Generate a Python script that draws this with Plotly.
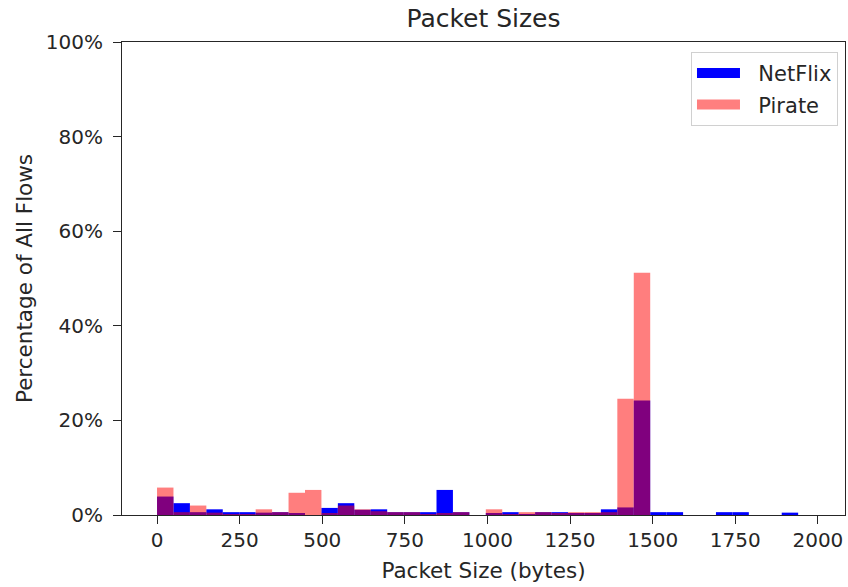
import plotly.graph_objects as go

# Histogram bins (bytes): 40 equal-width bins from 0 to 1990
bin_start = 0.0
bin_width = 49.75
n_bins = 40

# Percentage of all flows per bin
netflix = [3.9, 2.5, 0.6, 1.2, 0.6, 0.6, 0.5, 0.6, 0.3, 0.0,
           1.5, 2.5, 1.1, 1.2, 0.6, 0.6, 0.6, 5.3, 0.6, 0.0,
           0.3, 0.6, 0.2, 0.6, 0.6, 0.3, 0.3, 1.2, 1.6, 24.2,
           0.6, 0.6, 0.0, 0.0, 0.6, 0.6, 0.0, 0.0, 0.5, 0.0]
pirate = [5.8, 0.6, 2.0, 0.5, 0.2, 0.2, 1.2, 0.6, 4.7, 5.3,
          0.3, 2.0, 1.2, 0.8, 0.6, 0.6, 0.2, 0.3, 0.6, 0.0,
          1.2, 0.2, 0.6, 0.6, 0.4, 0.6, 0.6, 0.6, 24.6, 51.2,
          0.0, 0.0, 0.0, 0.0, 0.0, 0.0, 0.0, 0.0, 0.0, 0.0]

series_names = ["NetFlix", "Pirate"]
x_ticks = [0, 250, 500, 750, 1000, 1250, 1500, 1750, 2000]
y_ticks = [0, 20, 40, 60, 80, 100]
y_tick_labels = ["0%", "20%", "40%", "60%", "80%", "100%"]

centers = [bin_start + (i + 0.5) * bin_width for i in range(n_bins)]
blue = "rgb(0,0,255)"
pink = "rgba(255,0,0,0.5)"

fig = go.Figure()
fig.add_trace(go.Bar(x=centers, y=netflix, width=[bin_width] * n_bins,
                     name=series_names[0], showlegend=False,
                     marker=dict(color=blue, line=dict(width=0))))
fig.add_trace(go.Bar(x=centers, y=pirate, width=[bin_width] * n_bins,
                     name=series_names[1], showlegend=False,
                     marker=dict(color="rgb(255,0,0)", line=dict(width=0)),
                     opacity=0.5))
# legend entries drawn as wide patches (matplotlib style)
for name, col in zip(series_names, [blue, pink]):
    fig.add_trace(go.Scatter(x=[None], y=[None], mode="lines",
                             name="\u00a0\u00a0" + name, legendgroup=name,
                             line=dict(color=col, width=15)))

font = "DejaVu Sans"
W, H = 848, 587
fig.update_layout(
    width=W, height=H,
    barmode="overlay",
    plot_bgcolor="white", paper_bgcolor="white",
    margin=dict(l=122, r=3, t=42, b=72),
    font=dict(family=font, size=20, color="#262626"),
    title=dict(text="Packet Sizes", x=0.5, xanchor="center", xref="paper",
               y=1 - 18.5 / H, yanchor="middle", font=dict(size=25)),
    showlegend=True,
    legend=dict(x=0.9903, y=0.979, xanchor="right", yanchor="top",
                bordercolor="#d0d0d0", borderwidth=1, bgcolor="white",
                font=dict(size=21), traceorder="grouped", tracegroupgap=1,
                itemwidth=43),
    xaxis=dict(range=[-106, 2082], tickvals=x_ticks, ticks="outside", ticklen=8,
               tickcolor="#262626", showline=True, linecolor="#262626", linewidth=1,
               mirror=True, showgrid=False, zeroline=False, ticklabelstandoff=-1,
               title=dict(text="Packet Size (bytes)", standoff=11, font=dict(size=21.5))),
    yaxis=dict(range=[0, 100], tickvals=y_ticks, ticktext=y_tick_labels, ticks="outside",
               ticklen=8, tickcolor="#262626", showline=True, linecolor="#262626",
               linewidth=1, mirror=True, showgrid=False, zeroline=False,
               ticklabelstandoff=6,
               title=dict(text="Percentage of All Flows", standoff=7, font=dict(size=21.5))),
)

fig.write_html("out.html", config={"displayModeBar": False},
               post_script="document.body.style.margin='0';")
